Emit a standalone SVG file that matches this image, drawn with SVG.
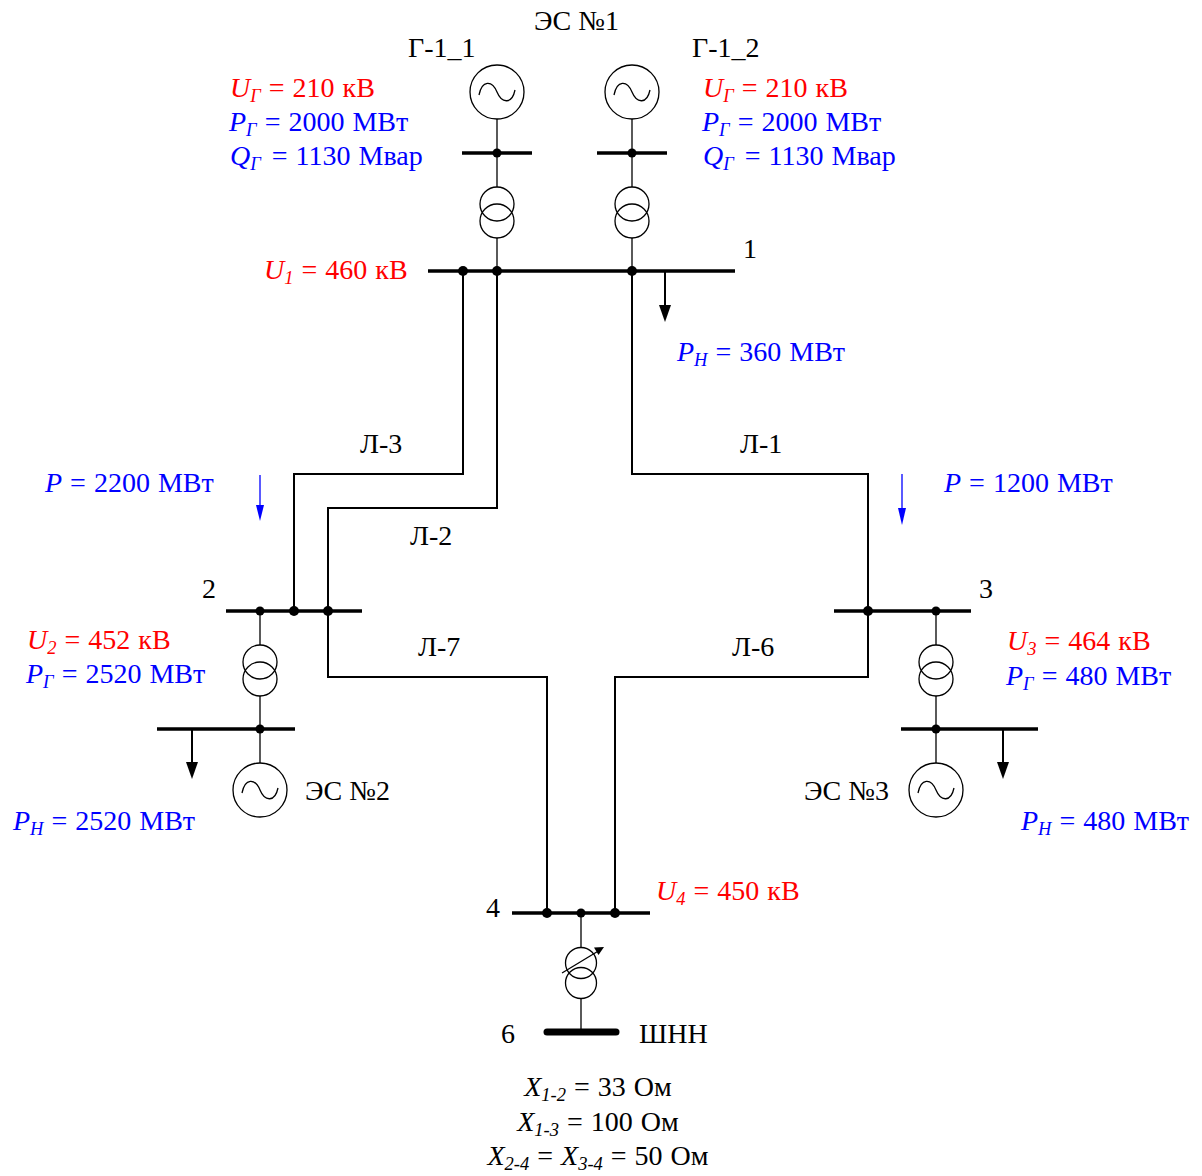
<svg xmlns="http://www.w3.org/2000/svg" width="1202" height="1176" viewBox="0 0 1202 1176">
<defs>
<style>
.t{font-family:"Liberation Serif","Times New Roman",serif;font-size:28px;fill:#000}
.f{word-spacing:1px}
.r{fill:#ff0000}
.b{fill:#0000ff}
.i{font-style:italic}
.s{font-style:italic;font-size:18.5px}
.bus{stroke:#000;stroke-width:3.5;fill:none}
.ln{stroke:#000;stroke-width:2;fill:none}
.th{stroke:#000;stroke-width:1.3;fill:none}
.cir{stroke:#000;stroke-width:1.3;fill:none}
.dot{fill:#000}
.flow{stroke:#0000ff;stroke-width:1.3;fill:none}
</style>
<g id="gen"><circle r="27" class="cir" cx="0" cy="0"/><path d="M-18,3 C-15,-12 -5,-12 0,0 C5,12 15,12 18,-2" class="th"/></g>
<g id="tr"><circle cx="0" cy="0" r="17" class="cir"/><circle cx="0" cy="17" r="17" class="cir"/></g>
<path id="head" d="M-6,-17 L6,-17 L0,0 Z" fill="#000"/>
</defs>
<rect width="1202" height="1176" fill="#fff"/>

<g id="connectors">
<polyline class="ln" points="463,271 463,474 294,474 294,611"/>
<polyline class="ln" points="497,271 497,508 328,508 328,611"/>
<polyline class="ln" points="632,271 632,474 868,474 868,611"/>
<polyline class="ln" points="328,611 328,677 547,677 547,913"/>
<polyline class="ln" points="868,611 868,677 615,677 615,913"/>
</g>

<g id="es1">
<use href="#gen" x="497" y="92"/>
<use href="#gen" x="632" y="92"/>
<line class="th" x1="497" y1="119" x2="497" y2="187"/>
<line class="th" x1="632" y1="119" x2="632" y2="187"/>
<line class="bus" x1="462" y1="153" x2="532" y2="153"/>
<line class="bus" x1="597" y1="153" x2="667" y2="153"/>
<circle class="dot" cx="497" cy="153" r="4.5"/>
<circle class="dot" cx="632" cy="153" r="4.5"/>
<use href="#tr" x="497" y="204"/>
<use href="#tr" x="632" y="204"/>
<line class="th" x1="497" y1="238" x2="497" y2="271"/>
<line class="th" x1="632" y1="238" x2="632" y2="271"/>
<text class="t" x="534" y="30">ЭС №1</text>
<text class="t" x="408" y="57">Г-1_1</text>
<text class="t" x="692" y="57">Г-1_2</text>
<text class="t f r" x="230" y="97"><tspan class="i">U</tspan><tspan class="s" dy="5">Г</tspan><tspan dy="-5"> = 210 кВ</tspan></text>
<text class="t f b" x="229" y="131"><tspan class="i">P</tspan><tspan class="s" dy="5">Г</tspan><tspan dy="-5"> = 2000 МВт</tspan></text>
<text class="t f b" x="230" y="165"><tspan class="i">Q</tspan><tspan class="s" dy="5">Г</tspan><tspan dy="-5" dx="3"> = 1130 Мвар</tspan></text>
<text class="t f r" x="703" y="97"><tspan class="i">U</tspan><tspan class="s" dy="5">Г</tspan><tspan dy="-5"> = 210 кВ</tspan></text>
<text class="t f b" x="702" y="131"><tspan class="i">P</tspan><tspan class="s" dy="5">Г</tspan><tspan dy="-5"> = 2000 МВт</tspan></text>
<text class="t f b" x="703" y="165"><tspan class="i">Q</tspan><tspan class="s" dy="5">Г</tspan><tspan dy="-5" dx="3"> = 1130 Мвар</tspan></text>
</g>

<g id="bus1">
<line class="bus" x1="428" y1="271" x2="735" y2="271"/>
<circle class="dot" cx="463" cy="271" r="5"/>
<circle class="dot" cx="497" cy="271" r="5"/>
<circle class="dot" cx="632" cy="271" r="5"/>
<line class="ln" x1="665" y1="271" x2="665" y2="308"/>
<use href="#head" x="665" y="322"/>
<text class="t" x="743" y="258">1</text>
<text class="t f r" x="264" y="279"><tspan class="i">U</tspan><tspan class="s" dy="5">1</tspan><tspan dy="-5"> = 460 кВ</tspan></text>
<text class="t f b" x="677" y="361"><tspan class="i">P</tspan><tspan class="s" dy="5">Н</tspan><tspan dy="-5"> = 360 МВт</tspan></text>
</g>

<g id="line-labels">
<text class="t" x="360" y="453">Л-3</text>
<text class="t" x="410" y="545">Л-2</text>
<text class="t" x="740" y="453">Л-1</text>
<text class="t" x="418" y="656">Л-7</text>
<text class="t" x="732" y="656">Л-6</text>
</g>

<g id="flows">
<line class="flow" x1="260" y1="475" x2="260" y2="512"/>
<path d="M256,505 L264,505 L260,521 Z" fill="#0000ff"/>
<line class="flow" x1="902" y1="474" x2="902" y2="512"/>
<path d="M898,508 L906,508 L902,525 Z" fill="#0000ff"/>
<text class="t f b" x="45" y="492"><tspan class="i">P</tspan> = 2200 МВт</text>
<text class="t f b" x="944" y="492"><tspan class="i">P</tspan> = 1200 МВт</text>
</g>

<g id="bus2">
<line class="bus" x1="226" y1="611" x2="362" y2="611"/>
<circle class="dot" cx="260" cy="611" r="4.5"/>
<circle class="dot" cx="294" cy="611" r="5"/>
<circle class="dot" cx="328" cy="611" r="5"/>
<line class="th" x1="260" y1="611" x2="260" y2="645"/>
<use href="#tr" x="260" y="662"/>
<line class="th" x1="260" y1="696" x2="260" y2="763"/>
<line class="bus" x1="157" y1="729" x2="295" y2="729"/>
<circle class="dot" cx="260" cy="729" r="4.5"/>
<line class="ln" x1="192" y1="729" x2="192" y2="765"/>
<use href="#head" x="192" y="779"/>
<use href="#gen" x="260" y="790"/>
<text class="t" x="202" y="598">2</text>
<text class="t f r" x="27" y="649"><tspan class="i">U</tspan><tspan class="s" dy="5">2</tspan><tspan dy="-5"> = 452 кВ</tspan></text>
<text class="t f b" x="26" y="683"><tspan class="i">P</tspan><tspan class="s" dy="5">Г</tspan><tspan dy="-5"> = 2520 МВт</tspan></text>
<text class="t f b" x="13" y="830"><tspan class="i">P</tspan><tspan class="s" dy="5">Н</tspan><tspan dy="-5"> = 2520 МВт</tspan></text>
<text class="t" x="305" y="800">ЭС №2</text>
</g>

<g id="bus3">
<line class="bus" x1="834" y1="611" x2="971" y2="611"/>
<circle class="dot" cx="868" cy="611" r="5"/>
<circle class="dot" cx="936" cy="611" r="4.5"/>
<line class="th" x1="936" y1="611" x2="936" y2="645"/>
<use href="#tr" x="936" y="662"/>
<line class="th" x1="936" y1="696" x2="936" y2="763"/>
<line class="bus" x1="901" y1="729" x2="1038" y2="729"/>
<circle class="dot" cx="936" cy="729" r="4.5"/>
<line class="ln" x1="1003" y1="729" x2="1003" y2="765"/>
<use href="#head" x="1003" y="779"/>
<use href="#gen" x="936" y="790"/>
<text class="t" x="979" y="598">3</text>
<text class="t f r" x="1007" y="650"><tspan class="i">U</tspan><tspan class="s" dy="5">3</tspan><tspan dy="-5"> = 464 кВ</tspan></text>
<text class="t f b" x="1006" y="685"><tspan class="i">P</tspan><tspan class="s" dy="5">Г</tspan><tspan dy="-5"> = 480 МВт</tspan></text>
<text class="t f b" x="1021" y="830"><tspan class="i">P</tspan><tspan class="s" dy="5">Н</tspan><tspan dy="-5"> = 480 МВт</tspan></text>
<text class="t" x="804" y="800">ЭС №3</text>
</g>

<g id="bus4">
<line class="bus" x1="512" y1="913" x2="650" y2="913"/>
<circle class="dot" cx="547" cy="913" r="5"/>
<circle class="dot" cx="581" cy="913" r="4.5"/>
<circle class="dot" cx="615" cy="913" r="5"/>
<line class="th" x1="581" y1="913" x2="581" y2="947"/>
<circle class="cir" cx="581" cy="963" r="15.5"/>
<circle class="cir" cx="581" cy="983" r="15.5"/>
<line class="th" x1="562" y1="973" x2="600" y2="950"/>
<path d="M604,947 L594,947.5 L598.5,955 Z" fill="#000"/>
<line class="th" x1="581" y1="998" x2="581" y2="1032"/>
<text class="t" x="486" y="917">4</text>
<text class="t f r" x="656" y="900"><tspan class="i">U</tspan><tspan class="s" dy="5">4</tspan><tspan dy="-5"> = 450 кВ</tspan></text>
</g>

<g id="bus6">
<line x1="547" y1="1032" x2="616" y2="1032" stroke="#000" stroke-width="7" stroke-linecap="round"/>
<text class="t" x="501" y="1043">6</text>
<text class="t" x="639" y="1043">ШНН</text>
</g>

<g id="params">
<text class="t f" x="598" y="1096" text-anchor="middle"><tspan class="i">X</tspan><tspan class="s" dy="5">1-2</tspan><tspan dy="-5"> = 33 Ом</tspan></text>
<text class="t f" x="598" y="1131" text-anchor="middle"><tspan class="i">X</tspan><tspan class="s" dy="5">1-3</tspan><tspan dy="-5"> = 100 Ом</tspan></text>
<text class="t f" x="598" y="1165" text-anchor="middle"><tspan class="i">X</tspan><tspan class="s" dy="5">2-4</tspan><tspan dy="-5"> = </tspan><tspan class="i">X</tspan><tspan class="s" dy="5">3-4</tspan><tspan dy="-5"> = 50 Ом</tspan></text>
</g>
</svg>
